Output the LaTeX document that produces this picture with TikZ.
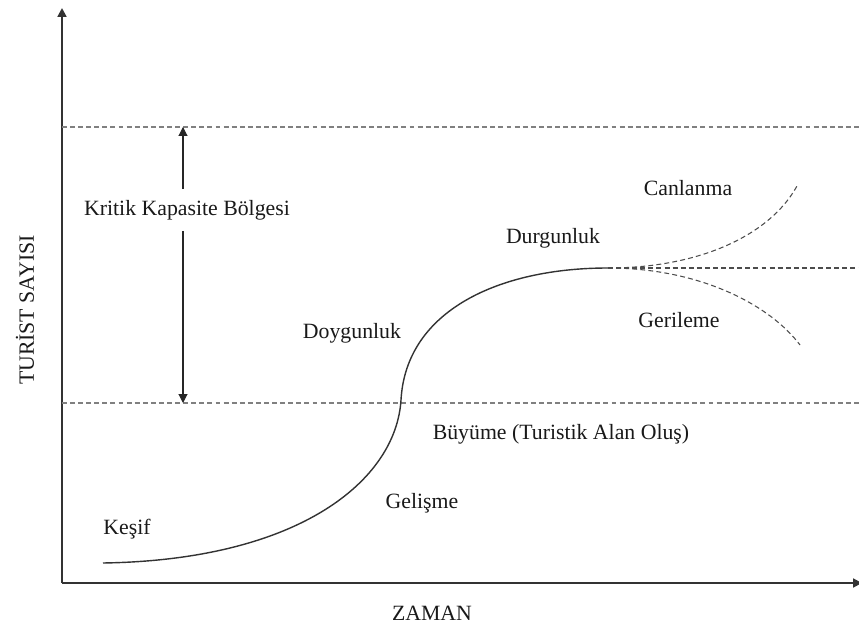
\documentclass[tikz,border=0pt]{standalone}
\usepackage{fontspec}
\setmainfont{Liberation Serif}
\usetikzlibrary{arrows.meta}

\begin{document}
\begin{tikzpicture}[x=0.02cm,y=-0.02cm,
        phase/.style={font=\fontsize{12.4}{14}\selectfont, text=black!90},
        level/.style={gray, line width=0.6pt, dash pattern=on 2.8pt off 1.8pt},
        branch/.style={black!70, line width=0.6pt, dash pattern=on 2.8pt off 1.8pt},
        tip/.style={-{Triangle[width=5pt,length=5pt]}}]
        \useasboundingbox (0,0) rectangle (859,628);

        % axes
        \coordinate (o) at (62,583);
        \coordinate (ytop) at (62,8);
        \coordinate (xend) at (862,583);
        \draw[tip, black!80, line width=1.1pt] (o) -- (ytop);
        \draw[tip, black!80, line width=1.1pt] (o) -- (xend);
        \node[phase, rotate=90] (yname) at (25,310) {TURİST SAYISI};
        \node[phase] (xname) at (432,613) {ZAMAN};

        % capacity limits
        \coordinate (ul) at (62,127);
        \coordinate (ur) at (859,127);
        \coordinate (ll) at (62,403);
        \coordinate (lr) at (859,403);
        \draw[level] (ul) -- (ur);
        \draw[level] (ll) -- (lr);

        \node[phase, inner sep=6pt] (kritik) at (187,210) {Kritik Kapasite Bölgesi};
        \coordinate (ktop) at (183,127);
        \coordinate (kbot) at (183,403);
        \draw[tip, black!85, line width=0.6pt] (kritik.north -| ktop) -- (ktop);
        \draw[tip, black!85, line width=0.6pt] (kritik.south -| kbot) -- (kbot);

        % life cycle
        \coordinate (start) at (103,563);
        \coordinate (turn) at (401,400);
        \coordinate (peak) at (608,268);
        \draw[black!80, line width=0.8pt] (start) .. controls (300,560) and (396,480) .. (turn)
                        .. controls (406,310) and (500,268) .. (peak);

        \coordinate (up) at (797,186);
        \coordinate (flat) at (859,268);
        \coordinate (down) at (800,345);
        \draw[branch] (peak) .. controls (700,268) and (770,235) .. (up);
        \draw[branch] (peak) -- (flat);
        \draw[branch] (peak) .. controls (700,268) and (770,305) .. (down);

        \node[phase] (kesif) at (127,529) {Keşif};
        \node[phase] (gelisme) at (422,503) {Gelişme};
        \node[phase] (buyume) at (561,434) {Büyüme (Turistik Alan Oluş)};
        \node[phase] (doygunluk) at (352,333) {Doygunluk};
        \node[phase] (durgunluk) at (553,238) {Durgunluk};
        \node[phase] (canlanma) at (688,188) {Canlanma};
        \node[phase] (gerileme) at (679,320) {Gerileme};
\end{tikzpicture}
\end{document}
